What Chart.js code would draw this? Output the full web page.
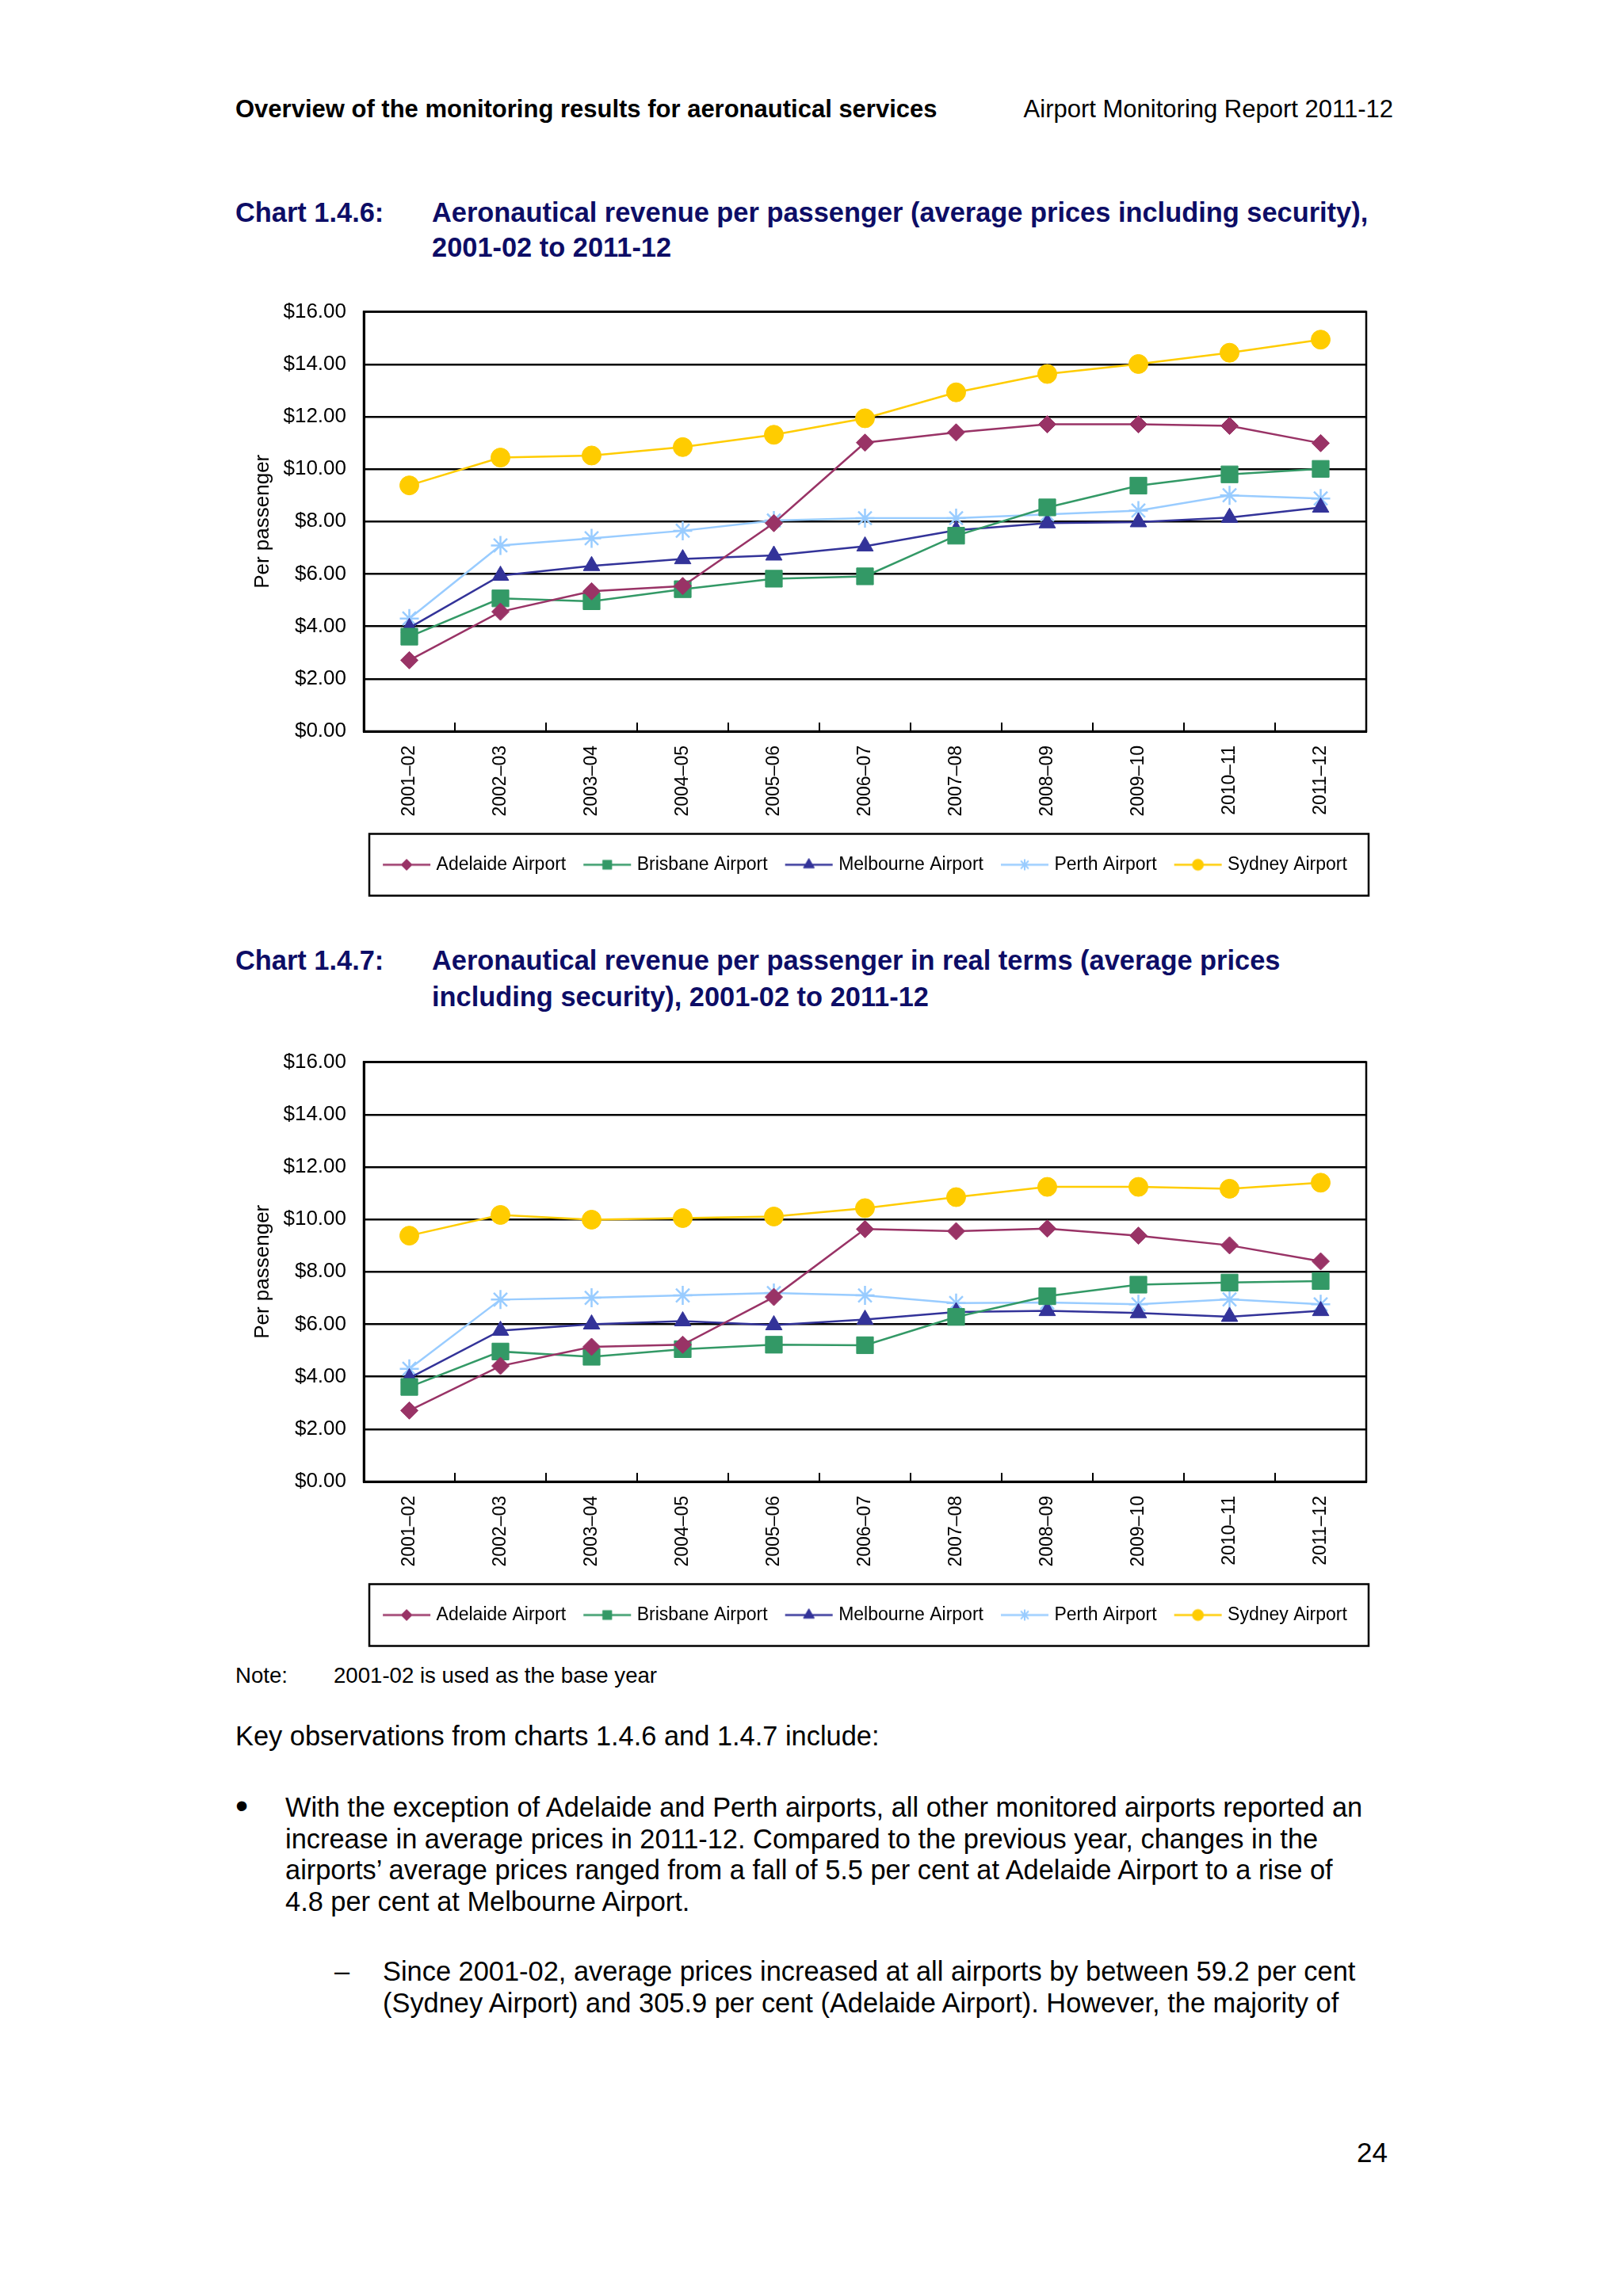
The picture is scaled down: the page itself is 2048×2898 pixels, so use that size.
<!DOCTYPE html>
<html>
<head>
<meta charset="utf-8">
<script src="https://cdn.jsdelivr.net/npm/chart.js@4.4.1/dist/chart.umd.min.js"></script>
<style>
  html, body { margin: 0; padding: 0; background: #fff; }
  body { width: 2048px; height: 2898px; position: relative; overflow: hidden;
         font-family: 'Liberation Sans', Arial, sans-serif; color: #000; }
  .t { position: absolute; white-space: nowrap; line-height: 1; }
  .title { font-size: 34.4px; font-weight: bold; color: #0d0d66; }
  .body { font-size: 34.4px; }
  canvas { position: absolute; }
</style>
</head>
<body>

<div class="t" style="left:297px;top:122px;font-size:31px;font-weight:bold;">Overview of the monitoring results for aeronautical services</div>
<div class="t" style="right:290px;top:122px;font-size:31px;">Airport Monitoring Report 2011-12</div>

<div class="t title" style="left:297px;top:251px;">Chart 1.4.6:</div>
<div class="t title" style="left:545px;top:251px;line-height:44px;margin-top:-5px;">Aeronautical revenue per passenger (average prices including security),<br>2001-02 to 2011-12</div>

<canvas id="chartNominal" width="1440" height="789" style="left:300px;top:356px;"></canvas>

<div class="t title" style="left:297px;top:1195px;">Chart 1.4.7:</div>
<div class="t title" style="left:545px;top:1195px;line-height:46px;margin-top:-6px;">Aeronautical revenue per passenger in real terms (average prices<br>including security), 2001-02 to 2011-12</div>

<canvas id="chartReal" width="1440" height="789" style="left:300px;top:1303px;"></canvas>

<div class="t" style="left:297px;top:2101px;font-size:27.6px;">Note:</div>
<div class="t" style="left:421px;top:2101px;font-size:27.6px;">2001-02 is used as the base year</div>

<div class="t body" style="left:297px;top:2174px;">Key observations from charts 1.4.6 and 1.4.7 include:</div>

<div class="t" style="left:297px;top:2260px;font-size:46px;line-height:39.5px;">&#8226;</div>
<div class="t body" style="left:360px;top:2262px;line-height:39.5px;">With the exception of Adelaide and Perth airports, all other monitored airports reported an<br>increase in average prices in 2011-12. Compared to the previous year, changes in the<br>airports’ average prices ranged from a fall of 5.5 per cent at Adelaide Airport to a rise of<br>4.8 per cent at Melbourne Airport.</div>

<div class="t body" style="left:422px;top:2469px;line-height:39.5px;">–</div>
<div class="t body" style="left:483px;top:2469px;line-height:39.5px;">Since 2001-02, average prices increased at all airports by between 59.2 per cent<br>(Sydney Airport) and 305.9 per cent (Adelaide Airport). However, the majority of</div>

<div class="t" style="left:1712px;top:2699px;font-size:35px;">24</div>

<script>
// categories
const years = ['2001–02', '2002–03', '2003–04', '2004–05', '2005–06', '2006–07',
               '2007–08', '2008–09', '2009–10', '2010–11', '2011–12'];
const airports = ['Adelaide Airport', 'Brisbane Airport', 'Melbourne Airport', 'Perth Airport', 'Sydney Airport'];

// Chart 1.4.6 - nominal $ per passenger
const adelaideNominal  = [2.71, 4.56, 5.34, 5.54, 7.94, 11.01, 11.40, 11.71, 11.71, 11.65, 10.99];
const brisbaneNominal  = [3.61, 5.07, 4.96, 5.42, 5.82, 5.91, 7.46, 8.54, 9.37, 9.80, 10.01];
const melbourneNominal = [3.95, 5.94, 6.31, 6.57, 6.71, 7.06, 7.67, 7.94, 7.98, 8.15, 8.54];
const perthNominal     = [4.30, 7.09, 7.36, 7.65, 8.04, 8.13, 8.13, 8.27, 8.42, 9.00, 8.88];
const sydneyNominal    = [9.38, 10.44, 10.52, 10.84, 11.31, 11.94, 12.93, 13.63, 14.01, 14.44, 14.94];

// Chart 1.4.7 - real terms (2001-02 base)
const adelaideReal  = [2.71, 4.41, 5.14, 5.22, 7.04, 9.63, 9.55, 9.65, 9.38, 9.01, 8.40];
const brisbaneReal  = [3.61, 4.96, 4.76, 5.05, 5.22, 5.20, 6.28, 7.07, 7.51, 7.59, 7.65];
const melbourneReal = [3.95, 5.76, 6.00, 6.12, 5.97, 6.18, 6.47, 6.51, 6.43, 6.29, 6.51];
const perthReal     = [4.30, 6.94, 7.01, 7.10, 7.19, 7.10, 6.81, 6.83, 6.76, 6.95, 6.76];
const sydneyReal    = [9.38, 10.17, 9.99, 10.05, 10.11, 10.43, 10.85, 11.24, 11.24, 11.17, 11.40];

// y axis ticks ($0.00 .. $16.00)
const yMin = 0, yMax = 16, yStep = 2;

// look of each airport
const colours = ['#993366', '#339966', '#333399', '#99CCFF', '#FFCC00'];
const markers = ['rectRot', 'rect', 'triangle', 'star', 'circle'];
const markerSize = [11, 15, 12, 12, 12];
const legendSize = [7, 8, 8, 7, 7];

const FONT = "'Liberation Sans', Arial, sans-serif";
Chart.defaults.font.family = FONT;
Chart.defaults.color = '#000';

// small picture of line + marker for the legend (drawn 10px wider on each side of the 56px box)
function legendIcon(i) {
    const c = document.createElement('canvas');
    c.width = 76; c.height = 24;
    const g = c.getContext('2d');
    g.strokeStyle = colours[i];
    g.fillStyle = colours[i];
    g.lineWidth = 2.5;
    g.beginPath(); g.moveTo(10, 12); g.lineTo(70, 12); g.stroke();
    g.lineWidth = markers[i] === 'star' ? 2 : 1;
    Chart.helpers.drawPoint(g, { pointStyle: markers[i], radius: legendSize[i], rotation: 0, borderWidth: 1 }, 40, 12);
    return c;
}

// plot frame, inner tick marks and legend box
const excelFrame = {
    id: 'excelFrame',
    beforeDatasetsDraw(chart) {
        const { ctx, chartArea: a, scales: { x } } = chart;
        ctx.save();
        ctx.strokeStyle = '#000';
        ctx.lineWidth = 2.5;
        ctx.strokeRect(a.left, a.top, a.right - a.left, a.bottom - a.top);
        ctx.lineWidth = 2;
        for (let i = 1; i < years.length; i++) {
            const px = (x.getPixelForValue(i - 1) + x.getPixelForValue(i)) / 2;
            ctx.beginPath();
            ctx.moveTo(px, a.bottom);
            ctx.lineTo(px, a.bottom - 11);
            ctx.stroke();
        }
        ctx.restore();
    },
    afterDraw(chart) {
        const { ctx, chartArea: a } = chart;
        const box = chart.legend.legendHitBoxes[0];
        const cy = box.top + box.height / 2;
        ctx.save();
        ctx.strokeStyle = '#000';
        ctx.lineWidth = 2.5;
        ctx.strokeRect(a.left + 7, cy - 39, a.right - a.left - 4, 78);
        ctx.restore();
    }
};

function renderChart(canvasId, series) {
    const ctx = document.getElementById(canvasId).getContext('2d');
    return new Chart(ctx, {
        type: 'line',
        data: {
            labels: years,
            datasets: series.map((data, i) => ({
                label: airports[i],
                data: data,
                borderColor: colours[i],
                backgroundColor: colours[i],
                borderWidth: 2.5,
                pointStyle: markers[i],
                pointRadius: markerSize[i],
                pointHoverRadius: markerSize[i],
                pointBorderWidth: markers[i] === 'star' ? 2.5 : 1,
                tension: 0
            }))
        },
        options: {
            responsive: false,
            animation: false,
            devicePixelRatio: 1,
            layout: { padding: { top: 0, right: 12, bottom: 32, left: 0 } },
            plugins: {
                tooltip: { enabled: false },
                legend: {
                    position: 'bottom',
                    fullSize: false,
                    labels: {
                        usePointStyle: true,
                        pointStyleWidth: 56,
                        padding: 22,
                        font: { size: 23 },
                        color: '#000',
                        generateLabels: (chart) => chart.data.datasets.map((ds, i) => ({
                            text: ds.label,
                            pointStyle: legendIcon(i),
                            fillStyle: colours[i],
                            strokeStyle: colours[i],
                            lineWidth: 0,
                            hidden: false,
                            fontColor: '#000',
                            datasetIndex: i
                        }))
                    }
                }
            },
            scales: {
                x: {
                    offset: true,
                    grid: { display: false },
                    border: { display: true, color: '#000', width: 3 },
                    ticks: { autoSkip: false, minRotation: 90, maxRotation: 90, padding: 10,
                             font: { size: 23 }, color: '#000' },
                    afterFit: (s) => { s.height = 135; }
                },
                y: {
                    min: yMin, max: yMax,
                    grid: { color: '#000', lineWidth: 2.5, drawTicks: false },
                    border: { display: true, color: '#000', width: 3 },
                    ticks: { stepSize: yStep, padding: 22, font: { size: 26 }, color: '#000',
                             callback: (v) => '$' + v.toFixed(2) },
                    title: { display: true, text: 'Per passenger', font: { size: 26 },
                             color: '#000', padding: { top: 16, bottom: 0 } },
                    afterFit: (s) => { s.width = 159; }
                }
            }
        },
        plugins: [excelFrame]
    });
}

renderChart('chartNominal', [adelaideNominal, brisbaneNominal, melbourneNominal, perthNominal, sydneyNominal]);
renderChart('chartReal', [adelaideReal, brisbaneReal, melbourneReal, perthReal, sydneyReal]);
</script>
</body>
</html>
